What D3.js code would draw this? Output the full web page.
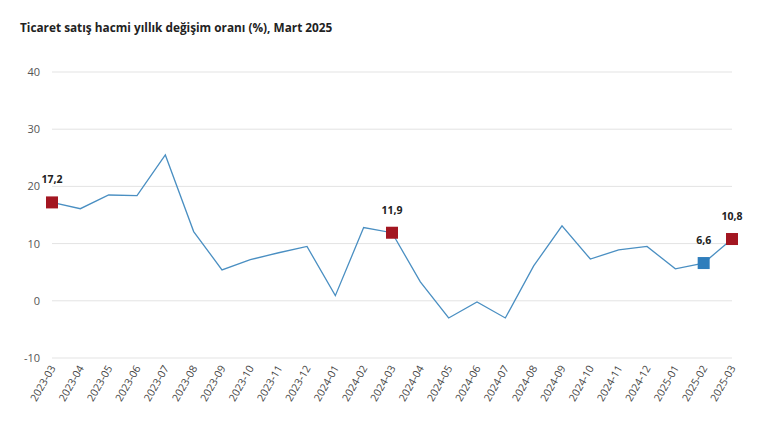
<!DOCTYPE html>
<html><head><meta charset="utf-8">
<script src="https://cdn.jsdelivr.net/npm/d3@7"></script>
<style>body{margin:0;background:#fff;font-family:"Open Sans",Arial,sans-serif}</style>
</head><body><svg id="c" width="770" height="445"></svg>
<script>
const categories=["2023-03","2023-04","2023-05","2023-06","2023-07","2023-08","2023-09","2023-10","2023-11","2023-12","2024-01","2024-02","2024-03","2024-04","2024-05","2024-06","2024-07","2024-08","2024-09","2024-10","2024-11","2024-12","2025-01","2025-02","2025-03"];
const values=[17.2,16.1,18.5,18.4,25.5,12.1,5.4,7.2,8.4,9.5,0.9,12.8,11.9,3.3,-3.0,-0.2,-3.0,6.1,13.1,7.3,8.9,9.5,5.6,6.6,10.8];
const yTicks=[-10,0,10,20,30,40];
const highlights=[{i:0,label:"17,2",color:"#a31621"},{i:12,label:"11,9",color:"#a31621"},{i:23,label:"6,6",color:"#2f7ebc"},{i:24,label:"10,8",color:"#a31621"}];
const svg=d3.select("#c");
svg.append("text").attr("x",20).attr("y",32).attr("font-size",11.8).attr("font-weight","bold").attr("fill","#222").text("Ticaret satış hacmi yıllık değişim oranı (%), Mart 2025");
const x=d3.scalePoint().domain(categories).range([52,732]);
const y=d3.scaleLinear().domain([-10,40]).range([358,72]);
const g=svg.append("g");
yTicks.forEach(t=>{
 g.append("line").attr("x1",52).attr("x2",732).attr("y1",y(t)).attr("y2",y(t)).attr("stroke","#e3e3e3");
 g.append("text").attr("x",40).attr("y",y(t)+4).attr("text-anchor","end").attr("font-size",11).attr("fill","#555").text(t);
});
categories.forEach(c=>{
 g.append("text").attr("transform",`translate(${x(c)+4},368) rotate(-60)`).attr("text-anchor","end").attr("font-size",10.5).attr("fill","#444").text(c);
});
g.append("path").datum(values).attr("fill","none").attr("stroke","#4a8fc2").attr("stroke-width",1.3)
 .attr("d",d3.line().x((d,i)=>x(categories[i])).y(d=>y(d)));
highlights.forEach(h=>{
 const cx=x(categories[h.i]),cy=y(values[h.i]);
 g.append("rect").attr("x",cx-6).attr("y",cy-6).attr("width",12).attr("height",12).attr("fill",h.color);
 g.append("text").attr("x",cx).attr("y",cy-19).attr("text-anchor","middle").attr("font-size",10.5).attr("font-weight","bold").attr("fill","#222").text(h.label);
});
</script></body></html>
